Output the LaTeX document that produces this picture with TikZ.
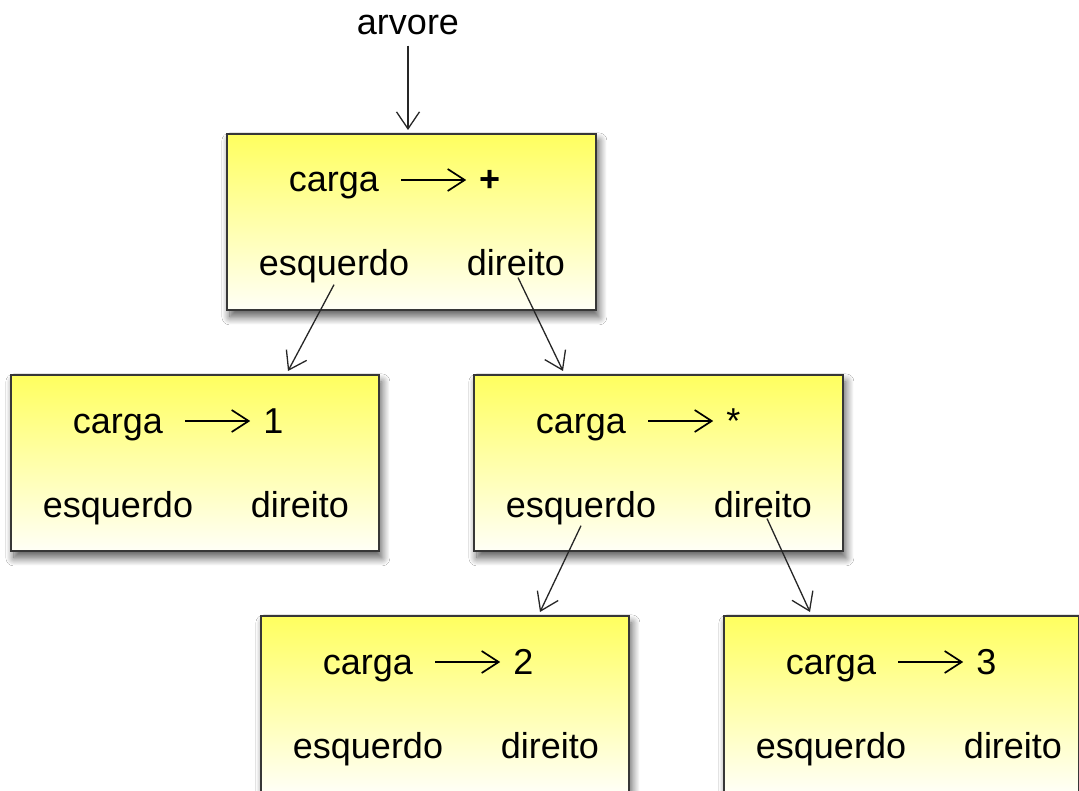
\documentclass[tikz,border=0pt]{standalone}
\usepackage{fontspec}
\setmainfont{Liberation Sans}
\usetikzlibrary{arrows.meta,calc,shadows.blur}
\definecolor{boxtop}{RGB}{255,255,95}
\definecolor{boxbot}{RGB}{255,255,246}
\definecolor{edge}{RGB}{55,55,55}
\newcommand\mkcell[5]{%
  \node[box=#4] (#1) at (#2,#3) {};
  \node[txt] (#1c) at ($(#2,#3)+(108,59)$) {carga};
  \node[txt, anchor=base west] (#1v) at ($(#1c.base east)+(100,0)$) {#5};
  \draw[inl] ([xshift=22pt,yshift=12pt]#1c.base east) -- ([xshift=-13pt,yshift=12pt]#1v.base west);
  \node[txt] (#1e) at ($(#2,#3)+(108,143)$) {esquerdo};
  \node[txt] (#1d) at ($(#2,#3)+(290,143)$) {direito};
}
\begin{document}
\begin{tikzpicture}[x=1pt,y=-1pt,
  box/.style={draw=edge, line width=1.8pt, rectangle, anchor=north west, inner sep=0pt,
    minimum width=#1, minimum height=176pt, top color=boxtop, bottom color=boxbot,
    blur shadow={shadow xshift=3pt, shadow yshift=-7pt, shadow opacity=65, shadow blur radius=8pt, shadow blur steps=12}},
  txt/.style={inner sep=0pt, anchor=base, font=\fontsize{36}{40}\selectfont},
  inl/.style={line width=1.7pt, -{Straight Barb[length=17pt,width=22pt,line width=1.7pt]}},
  conn/.style={line width=1.3pt, draw=black!85, -{Straight Barb[length=17pt,width=23pt,line width=1.3pt]}}]
\clip (0,0) rectangle (1079,791);
\fill[white] (0,0) rectangle (1079,791);
\node[txt] (arv) at (408,35) {arvore};
\mkcell{r}{226}{133}{369}{\textbf{+}}
\mkcell{a}{10}{374}{368}{1}
\mkcell{b}{473}{374}{369}{*}
\mkcell{c}{260}{615}{368}{2}
\mkcell{d}{723}{615}{355}{3}
\draw[conn] ([yshift=-10pt]arv.south) -- ($(r.north west)+(182,-3)$);
\draw[conn] ([yshift=-1pt]re.south) -- ($(a.north west)+(278,-3)$);
\draw[conn] ([yshift=-1pt,xshift=2pt]rd.south) -- ($(b.north west)+(90,-3)$);
\draw[conn] ([yshift=-1pt]be.south) -- ($(c.north west)+(280,-3)$);
\draw[conn] ([yshift=-1pt,xshift=4pt]bd.south) -- ($(d.north west)+(87,-3)$);
\end{tikzpicture}
\end{document}
